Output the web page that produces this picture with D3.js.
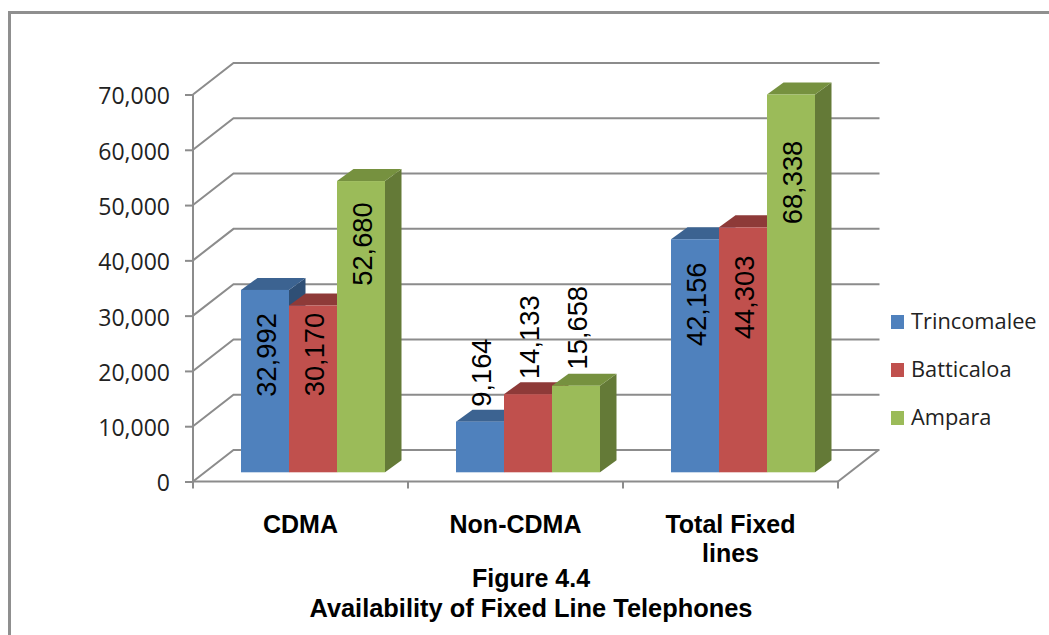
<!DOCTYPE html>
<html><head><meta charset="utf-8">
<script src="https://cdn.jsdelivr.net/npm/d3@7/dist/d3.min.js"></script>
<style>html,body{margin:0;padding:0;background:#fff}svg{display:block}</style>
</head><body><svg id="c" width="1049" height="635"></svg>
<script>
const categories=["CDMA","Non-CDMA","Total Fixed lines"];
const seriesNames=["Trincomalee","Batticaloa","Ampara"];
const trincomalee=[32992,9164,42156];
const batticaloa=[30170,14133,44303];
const ampara=[52680,15658,68338];
const seriesValues=[trincomalee,batticaloa,ampara];
const tickValues=[0,10000,20000,30000,40000,50000,60000,70000];
const front=["#4f81bd","#c0504d","#9bbb59"];
const top_=["#3c6391","#8e3a38","#76913f"];
const side=["#2f4f75","#77302e","#647a37"];
// label centre, measured down from each bar's top (series by category)
const labelShift=[[65,-49,65],[49,-57,70],[63,-58,88]];

const svg=d3.select("#c");
svg.append("path").attr("d","M9.5,635V12.5H1049").attr("fill","none").attr("stroke","#8f8f8f").attr("stroke-width",3);

const y=d3.scaleLinear().domain([0,70000]).range([481.5,94.5]);
const x0=d3.scaleBand().domain(categories).range([193,838]);
const x1=d3.scaleBand().domain(seriesNames).range([48,192]);
const dX=40.5,dY=-31.5,bX=16.5,bY=-12,liftY=-9.2;
const grey="#8c8c8c";

const g=svg.append("g");
tickValues.forEach(t=>{
  g.append("path").attr("d",`M${193},${y(t)}L${193+dX},${y(t)+dY}H${838+dX+1}`)
   .attr("fill","none").attr("stroke",grey).attr("stroke-width",2);
});
g.append("path").attr("d",`M838,${y(0)}L${838+dX},${y(0)+dY}`).attr("fill","none").attr("stroke",grey).attr("stroke-width",2);
g.append("path").attr("d",`M193,${y(70000)}V${y(0)}H838`).attr("fill","none").attr("stroke",grey).attr("stroke-width",2);

const yAxis=d3.axisLeft(y).tickValues(tickValues).tickSize(8).tickPadding(15).tickFormat(d3.format(","));
const ya=svg.append("g").attr("transform","translate(193,0)").call(yAxis);
ya.select(".domain").remove();
ya.selectAll("line").attr("stroke",grey).attr("stroke-width",2);
ya.selectAll("text").attr("font-family","Open Sans").attr("font-size",23).attr("fill","#222")
  .attr("transform","translate(0,2)");
const xa=svg.append("g").attr("transform",`translate(0,${y(0)})`);
x0.domain().concat([null]).forEach((c,i)=>{
  const px=193+i*x0.step();
  xa.append("line").attr("x1",px).attr("x2",px).attr("y1",0).attr("y2",7).attr("stroke",grey).attr("stroke-width",2);
});

const bars=svg.append("g");
categories.forEach((c,ci)=>{
  seriesNames.forEach((s,si)=>{
    const v=seriesValues[si][ci];
    const l=x0(c)+x1(s), w=x1.bandwidth(), r=l+w;
    const t=y(v)+liftY, b=y(0)+liftY;
    const k=bars.append("g");
    k.append("path").attr("d",`M${r},${t}L${r+bX},${t+bY}V${b+bY}L${r},${b}Z`).attr("fill",side[si]);
    k.append("path").attr("d",`M${l},${t}L${l+bX},${t+bY}H${r+bX}L${r},${t}Z`).attr("fill",top_[si]);
    k.append("rect").attr("x",l).attr("y",t).attr("width",w).attr("height",b-t).attr("fill",front[si]);
  });
});
categories.forEach((c,ci)=>{
  seriesNames.forEach((s,si)=>{
    const v=seriesValues[si][ci];
    const cx=x0(c)+x1(s)+x1.bandwidth()/2+1;
    const t=y(v)+liftY;
    const cy=t+labelShift[si][ci];
    svg.append("text").attr("transform",`translate(${cx},${cy}) rotate(-90)`)
      .attr("text-anchor","middle").attr("dominant-baseline","central")
      .attr("font-family","Liberation Sans").attr("font-size",27.3).attr("fill","#000")
      .text(d3.format(",")(v));
  });
});
const catLines=[["CDMA"],["Non-CDMA"],["Total Fixed","lines"]];
categories.forEach((c,i)=>{
  const cx=x0(c)+x0.bandwidth()/2;
  catLines[i].forEach((ln,j)=>{
    svg.append("text").attr("x",cx).attr("y",533+j*29).attr("text-anchor","middle")
     .attr("font-family","Liberation Sans").attr("font-weight","bold").attr("font-size",25).attr("fill","#000").text(ln);
  });
});
const legY=[322,370,418];
seriesNames.forEach((s,i)=>{
  svg.append("rect").attr("x",891).attr("y",legY[i]-7).attr("width",13).attr("height",14).attr("fill",front[i]);
  svg.append("text").attr("x",911).attr("y",legY[i]+7).attr("font-family","Open Sans").attr("font-size",21.8).attr("fill","#222").text(s);
});
svg.append("text").attr("x",531).attr("y",587).attr("text-anchor","middle").attr("font-family","Liberation Sans").attr("font-weight","bold").attr("font-size",25).text("Figure 4.4");
svg.append("text").attr("x",531).attr("y",617).attr("text-anchor","middle").attr("font-family","Liberation Sans").attr("font-weight","bold").attr("font-size",25.4).text("Availability of Fixed Line Telephones");
</script></body></html>
